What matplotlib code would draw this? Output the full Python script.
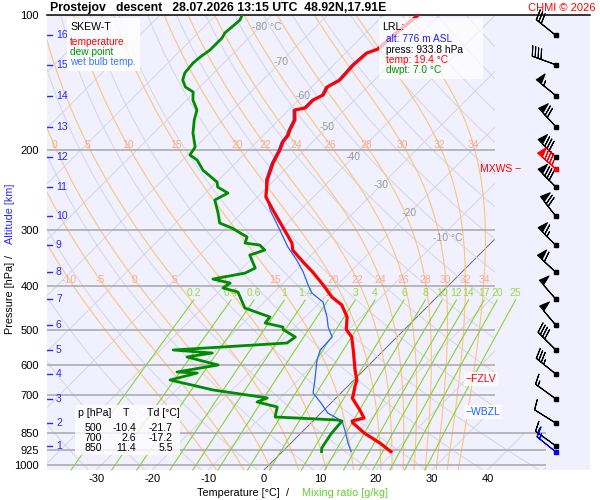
import numpy as np
import matplotlib
matplotlib.use('Agg')
import matplotlib.pyplot as plt
from matplotlib.patches import Polygon, Rectangle
from matplotlib.ticker import NullLocator

plt.rcParams['font.family'] = ['Liberation Sans', 'DejaVu Sans']

# ---- sounding values ----
temp_p = [933.8, 893.6, 850.0, 806.6, 798.4, 786.3, 754.7, 709.7, 700.0, 671.0, 647.4,
          615.1, 555.2, 519.5, 500.0, 469.0, 441.1, 423.4, 398.1, 372.6, 354.0, 333.0,
          321.2, 296.0, 271.3, 253.8, 232.6, 213.3, 199.5, 191.5, 184.8, 180.1, 171.1,
          162.6, 160.9, 154.5, 150.6, 144.5, 139.5, 129.2, 121.5, 119.0, 108.0, 100.0]
temp_t = [19.4, 15.9, 11.4, 7.5, 7.0, 8.6, 6.4, 2.9, 2.6, 1.4, 0.5,
          -1.6, -5.5, -8.1, -10.4, -12.5, -15.6, -18.8, -22.5, -26.7, -30.2, -34.2,
          -35.6, -40.1, -44.9, -48.5, -51.3, -53.3, -54.4, -55.3, -55.6, -56.2, -57.1,
          -58.9, -57.4, -57.4, -56.5, -57.2, -56.2, -56.5, -56.2, -54.9, -54.4, -53.8]

dwpt_p = [933.8, 916.8, 880.0, 850.0, 798.4, 794.3, 782.2, 743.2, 724.4, 709.7, 681.3,
          647.4, 624.6, 621.4, 599.5, 575.4, 563.8, 555.2, 535.7, 519.5, 500.0, 493.6,
          483.6, 469.0, 447.9, 412.7, 404.3, 394.1, 386.2, 374.5, 365.0, 341.6, 333.0,
          324.5, 321.2, 311.5, 297.5, 290.0, 275.4, 257.7, 248.7, 241.2, 235.1, 221.1,
          210.1, 204.7, 196.5, 182.9, 171.1, 162.6, 154.5, 148.3, 144.5, 139.5, 134.5,
          127.8, 124.0, 119.6, 112.5, 109.6, 106.3, 102.6, 100.0]
dwpt_t = [7.0, 6.4, 5.9, 5.5, 5.2, 4.1, -7.5, -8.9, -13.4, -12.3, -23.4,
          -32.9, -29.3, -33.1, -27.0, -34.0, -30.2, -37.7, -18.6, -18.2, -21.7, -22.2,
          -26.1, -26.3, -32.4, -36.5, -39.9, -39.5, -43.3, -38.6, -37.7, -41.0, -39.2,
          -41.0, -44.0, -44.7, -49.0, -52.1, -54.2, -57.1, -56.0, -58.9, -59.9, -64.6,
          -67.4, -69.6, -70.1, -73.0, -75.1, -76.4, -78.9, -80.3, -82.6, -84.3, -85.2,
          -85.5, -85.3, -84.8, -84.8, -85.2, -85.0, -84.8, -85.3]

wetb_p = [933.8, 893.6, 836.0, 798.4, 766.4, 728.1, 691.8, 647.4, 584.3, 555.2, 519.5,
          493.6, 469.0, 434.3, 414.8, 398.1, 372.6, 350.4, 327.9, 300.5, 271.3, 251.2,
          232.6, 213.3, 199.5, 191.5, 184.8, 180.1, 171.1, 162.6, 160.9, 154.5, 150.6,
          144.5, 139.5, 129.2, 121.5, 119.0, 108.0, 100.0]
wetb_t = [12.3, 10.2, 7.3, 5.2, 1.2, -1.8, -5.0, -7.0, -10.2, -11.4, -11.6,
          -14.1, -16.1, -19.5, -23.1, -25.2, -28.4, -31.7, -35.6, -40.1, -45.4, -48.8,
          -51.6, -53.6, -54.7, -55.6, -55.9, -56.5, -57.4, -59.2, -57.7, -57.7, -56.8,
          -57.5, -56.5, -56.8, -56.5, -55.2, -54.7, -54.1]

# altitude marks (km) and the wind at those levels
alt_km = list(range(1, 17))
alt_p = [907, 807, 713, 628, 555, 489, 428, 373, 325, 280, 241, 207, 177, 151, 129, 111]
wind_dir = [306, 302, 306, 309, 315, 320, 319, 313, 315, 322, 315, 315, 317, 309, 290, 309]
wind_spd = [15, 10, 15, 35, 40, 50, 50, 60, 65, 70, 80, 80, 70, 55, 40, 30]

mxws_p, mxws_dir, mxws_spd = 220, 311, 85
sfc_p, sfc_dir, sfc_spd = 933.8, 309, 15
fzlv_p = 644
wbzl_p = 762

p_ticks = [100, 200, 300, 400, 500, 600, 700, 850, 925, 1000]
t_ticks = [-30, -20, -10, 0, 10, 20, 30, 40]

thw_lines = [-10, -5, 0, 5, 10, 15, 20, 22, 24, 26, 28, 30, 32, 34]
thw_row_hi = [0, 5, 10, 15, 20, 22, 24, 26, 28, 30, 32, 34]
thw_row_lo = [-10, -5, 0, 5, 10, 15, 20, 22, 24, 26, 28, 30, 32, 34]
mix_lines = [0.2, 0.4, 0.6, 1, 1.4, 2, 3, 4, 6, 8, 10, 12, 14, 17, 20, 25]
mix_labels = ['0.2', '0.4', '0.6', '1', '1.4', '2', '3', '4', '6', '8', '10', '12', '14', '17', '20', '25']

iso_lab_t = [-80, -70, -60, -50, -40, -30, -20, -10]
iso_lab_p = [106.3, 127.2, 151.4, 177.4, 206.8, 238.8, 275.4, 313.0]
iso_lab_s = ['-80 °C', '-70', '-60', '-50', '-40', '-30', '-20', '-10 °C']

table_p = [500, 700, 850]
table_t = [-10.4, 2.6, 11.4]
table_td = [-21.7, -17.2, 5.5]

# ---- skew-T geometry ----
P_BOT = 1026.0
SKEW = 80.5          # degC per decade of pressure
X_LEFT, X_RIGHT = -38.82, 58.32
X_EDGE, X_EDGE_LOW = 41.3, 50.5


def skx(t, p):
    return np.asarray(t) + SKEW * np.log10(P_BOT / np.asarray(p))


def moist_adiabat(thw):
    def rate(T, p):
        es = 6.112 * np.exp(17.67 * (T - 273.15) / (T - 29.65))
        rs = 0.622 * es / (p - es)
        return (287.04 * T + 2.501e6 * rs) / (p * (1005.7 + 2.501e6 ** 2 * rs * 0.622 / (287.04 * T * T)))

    def run(ps):
        T = thw + 273.15
        out = [T]
        for a, b in zip(ps[:-1], ps[1:]):
            h = b - a
            k1 = rate(T, a)
            k2 = rate(T + h * k1 / 2, a + h / 2)
            k3 = rate(T + h * k2 / 2, a + h / 2)
            k4 = rate(T + h * k3, b)
            T += h * (k1 + 2 * k2 + 2 * k3 + k4) / 6
            out.append(T)
        return np.array(out)

    up = np.linspace(1000, 100, 451)
    dn = np.linspace(1000, 1040, 21)
    tu, td = run(up), run(dn)
    p_all = np.concatenate([dn[::-1], up[1:]])
    t_all = np.concatenate([td[::-1], tu[1:]]) - 273.15
    return p_all, t_all


def mix_t(w, p):
    e = w / 1000 * p / (0.622 + w / 1000)
    lg = np.log(e / 6.112)
    return 243.5 * lg / (17.67 - lg)


fig = plt.figure(figsize=(6, 5), dpi=100)
ax = fig.add_axes([47 / 600, 30 / 500, 543 / 600, 455 / 500], facecolor='#F0F0FF')
ax.set_yscale('log')
ax.set_ylim(P_BOT, 100)
ax.set_xlim(X_LEFT, X_RIGHT)

clip = Polygon([(X_LEFT, P_BOT), (X_LEFT, 100), (X_EDGE, 100), (X_EDGE, 850),
                (X_EDGE_LOW, 850), (X_EDGE_LOW, P_BOT)], closed=True, transform=ax.transData)

pp = np.logspace(2, np.log10(P_BOT), 200)

# isotherms
for t in range(-150, 60, 10):
    c = '#6E6E6E' if t == 0 else '#D6D6E0'
    ln, = ax.plot(skx(t, pp), pp, color=c, lw=0.7, zorder=1)
    ln.set_clip_path(clip)

# dry adiabats
for th in range(230, 560, 10):
    tt = th * (pp / 1000.0) ** 0.2857 - 273.15
    ln, = ax.plot(skx(tt, pp), pp, color='#D6D6E0', lw=0.7, zorder=1)
    ln.set_clip_path(clip)

# saturated adiabats
for thw in thw_lines:
    mp, mt = moist_adiabat(thw)
    ln, = ax.plot(skx(mt, mp), mp, color='#FFC47A', lw=0.8, zorder=1.2)
    ln.set_clip_path(clip)
    for row_p, row in ((194.5, thw_row_hi), (388.0, thw_row_lo)):
        if thw in row:
            xl = np.interp(row_p, mp[::-1], skx(mt, mp)[::-1])
            ax.text(xl, row_p, str(thw), color='#FFAA8C', fontsize=7.5,
                    ha='center', va='center', zorder=2)

# mixing ratio lines
pm = np.logspace(np.log10(430), np.log10(P_BOT), 60)
for w, lab in zip(mix_lines, mix_labels):
    ax.plot(skx(mix_t(w, pm), pm), pm, color='#8CD232', lw=0.8, zorder=1.3, clip_on=False)
    ax.text(skx(mix_t(w, 430), 430), 414, lab, color='#99D844', fontsize=7.5,
            ha='center', va='center', zorder=2, clip_on=False)

# isotherm labels
for t, p, s in zip(iso_lab_t, iso_lab_p, iso_lab_s):
    ax.annotate(s, (skx(t, p), p), xytext=(-5.4, 0), textcoords='offset points',
                ha='left', va='center', color='#9A9A9A', fontsize=7.5, zorder=2)

# isobars
for p in p_ticks[1:]:
    xe = X_EDGE_LOW if p >= 850 else X_EDGE
    ax.plot([X_LEFT, xe], [p, p], color='#A8A8A8', lw=1.1, zorder=1.5, solid_capstyle='butt')

# profiles
ax.plot(skx(wetb_t, wetb_p), wetb_p, color='#1E64FF', lw=0.9, zorder=3)
ax.plot(skx(dwpt_t, dwpt_p), dwpt_p, color='#008C00', lw=2.0, zorder=3)
ax.plot(skx(temp_t, temp_p), temp_p, color='#FF0000', lw=2.3, zorder=3.1)

# winds
xb = 52.2
wd = np.radians(wind_dir)
ws = np.array(wind_spd, dtype=float)
ax.barbs(np.full(len(alt_p), xb), alt_p, -ws * np.sin(wd), -ws * np.cos(wd),
         length=6, lw=0.8, color='k', zorder=5, clip_on=False)
ax.plot(np.full(len(alt_p), xb), alt_p, 's', color='k', ms=2.8, zorder=5)
for p, d, s, c in ((mxws_p, mxws_dir, mxws_spd, '#FF0000'), (sfc_p, sfc_dir, sfc_spd, '#0000FF')):
    r = np.radians(d)
    ax.barbs([xb], [p], [-s * np.sin(r)], [-s * np.cos(r)], length=6, lw=0.8,
             color=c, zorder=5.2, clip_on=False)
    ax.plot([xb], [p], 's', color=c, ms=2.8, zorder=5.2)

# special levels
ax.text(36.1, fzlv_p, '\u2212FZLV', color='#FF0000', fontsize=7.5, ha='left', va='center',
        zorder=6, bbox=dict(facecolor='white', edgecolor='none', alpha=0.8, pad=1.2))
ax.text(36.1, wbzl_p, '\u2212WBZL', color='#1E64FF', fontsize=7.5, ha='left', va='center',
        zorder=6, bbox=dict(facecolor='white', edgecolor='none', alpha=0.8, pad=1.2))
ax.text(46.0, mxws_p, 'MXWS \u2212', color='#FF0000', fontsize=7.5, ha='right', va='center',
        zorder=6)

# altitude scale
ytr = ax.get_yaxis_transform()
for k, p in zip(alt_km, alt_p):
    ax.plot([0, 0.009], [p, p], transform=ytr, color='#2828FF', lw=1.0, zorder=4)
    ax.text(0.0165, p, str(k), transform=ytr, color='#2828FF', fontsize=7.5,
            ha='left', va='center', zorder=4)

# axes decoration
ax.set_yticks(p_ticks)
ax.set_yticklabels([str(p) for p in p_ticks])
ax.yaxis.set_minor_locator(NullLocator())
ax.set_xticks(t_ticks)
ax.set_xticklabels([str(t) for t in t_ticks])
ax.tick_params(length=0, labelsize=8)
ax.tick_params(axis='y', pad=6)
ax.tick_params(axis='x', pad=3)
for side in ('left', 'right', 'bottom'):
    ax.spines[side].set_visible(False)
ax.spines['top'].set_color('k')
ax.spines['top'].set_linewidth(1.1)


def fx(px):
    return px / 600


def fy(py):
    return 1 - py / 500


# boxes
fig.add_artist(Rectangle((fx(67), fy(71)), 73 / 600, 53 / 500, transform=fig.transFigure,
                         facecolor='white', edgecolor='none', alpha=0.85, zorder=2))
fig.add_artist(Rectangle((fx(379), fy(79)), 104 / 600, 61 / 500, transform=fig.transFigure,
                         facecolor='white', edgecolor='none', alpha=0.72, zorder=2))
fig.add_artist(Rectangle((fx(75), fy(455)), 105 / 600, 50 / 500, transform=fig.transFigure,
                         facecolor='white', edgecolor='none', alpha=0.8, zorder=2))

fig.text(fx(70), fy(27), 'SKEW-T', fontsize=7.6, color='k', va='center')
fig.text(fx(70), fy(42), 'temperature', fontsize=7.3, color='#FF0000', va='center')
fig.text(fx(70), fy(52), 'dew point', fontsize=7.3, color='#009600', va='center')
fig.text(fx(70), fy(62), 'wet bulb temp.', fontsize=7.3, color='#3C78FF', va='center')

fig.text(fx(382), fy(27), 'LRL:', fontsize=7.6, color='k', va='center')
fig.text(fx(386), fy(39), 'alt: 776 m ASL', fontsize=7.3, color='#2020FF', va='center')
fig.text(fx(386), fy(50), 'press: 933.8 hPa', fontsize=7.3, color='k', va='center')
fig.text(fx(386), fy(60), 'temp: 19.4 \u00b0C', fontsize=7.3, color='#FF0000', va='center')
fig.text(fx(386), fy(70), 'dwpt: 7.0 \u00b0C', fontsize=7.3, color='#009600', va='center')

fig.text(fx(78), fy(413), 'p [hPa]', fontsize=7.6, va='center')
fig.text(fx(126), fy(413), 'T', fontsize=7.6, va='center', ha='center')
fig.text(fx(147), fy(413), 'Td [\u00b0C]', fontsize=7.6, va='center')
for i, (p, t, td) in enumerate(zip(table_p, table_t, table_td)):
    yy = fy(428 + 10.2 * i)
    fig.text(fx(102), yy, str(p), fontsize=7.6, va='center', ha='right')
    fig.text(fx(136), yy, f'{t:.1f}', fontsize=7.6, va='center', ha='right')
    fig.text(fx(173), yy, f'{td:.1f}', fontsize=7.6, va='center', ha='right')

# titles and axis labels
fig.text(fx(50), fy(8), 'Prostejov   descent   28.07.2026 13:15 UTC  48.92N,17.91E',
         fontsize=8.8, fontweight='bold', va='center')
fig.text(fx(596), fy(8), 'CHMI \u00a9 2026', fontsize=8, color='#FF0000', va='center', ha='right')

fig.text(fx(10), fy(298), 'Pressure [hPa]', rotation=90, fontsize=7.8, va='center', ha='center')
fig.text(fx(10), fy(256), '/', rotation=90, fontsize=7.8, va='center', ha='center')
fig.text(fx(10), fy(214), 'Altitude [km]', rotation=90, fontsize=7.8, color='#2828FF',
         va='center', ha='center')
fig.text(fx(238), fy(493), 'Temperature [\u00b0C]', fontsize=7.8, va='center', ha='center')
fig.text(fx(288), fy(493), '/', fontsize=7.8, va='center', ha='center')
fig.text(fx(345), fy(493), 'Mixing ratio [g/kg]', fontsize=7.8, color='#66CC33',
         va='center', ha='center')

fig.savefig('out.png', dpi=100, facecolor='white')
